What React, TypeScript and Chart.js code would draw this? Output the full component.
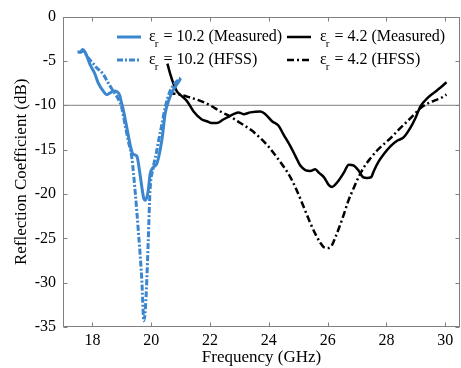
import { useEffect, useRef } from 'react';
import { Chart, registerables } from 'chart.js';

Chart.register(...registerables);

const xTickValues = [18, 20, 22, 24, 26, 28, 30];
const yTickValues = [0, -5, -10, -15, -20, -25, -30, -35];

const blueMeasFreq = [17.49, 17.58, 17.67, 17.75, 17.83, 17.92, 18.09, 18.2, 18.37, 18.49, 18.6, 18.72, 18.85, 18.93, 18.98, 19.05, 19.17, 19.28, 19.36, 19.45, 19.52, 19.62, 19.74, 19.8, 19.9, 19.96, 20.07, 20.19, 20.3, 20.38, 20.47, 20.59, 20.76, 20.9, 21.0];
const blueMeasVal = [-4.0, -4.0, -3.7, -4.0, -4.6, -5.4, -6.5, -7.5, -8.4, -8.8, -8.6, -8.4, -8.5, -8.9, -9.6, -10.5, -12.5, -14.4, -15.4, -15.6, -15.8, -17.8, -20.4, -20.7, -19.6, -17.8, -17.0, -16.6, -15.1, -13.5, -11.0, -9.5, -8.2, -7.5, -7.0];

const blueHfssFreq = [17.55, 17.69, 17.8, 17.92, 18.03, 18.15, 18.26, 18.37, 18.54, 18.71, 18.88, 19.0, 19.11, 19.22, 19.34, 19.45, 19.56, 19.68, 19.75, 19.8, 19.85, 19.9, 19.96, 20.07, 20.19, 20.25, 20.36, 20.47, 20.64, 20.76, 20.9, 21.0];
const blueHfssVal = [-4.1, -3.9, -4.4, -4.9, -5.3, -5.8, -6.1, -6.5, -7.5, -8.4, -9.3, -10.3, -12.2, -14.0, -15.9, -19.6, -24.1, -29.7, -34.3, -33.0, -29.7, -25.2, -19.6, -17.0, -15.1, -14.0, -12.2, -10.3, -8.4, -7.7, -7.2, -6.9];

const blackMeasFreq = [20.55, 20.64, 20.76, 20.87, 20.98, 21.21, 21.44, 21.72, 21.89, 22.05, 22.23, 22.45, 22.62, 22.8, 22.97, 23.14, 23.37, 23.71, 23.88, 24.11, 24.33, 24.5, 24.73, 24.9, 25.07, 25.24, 25.41, 25.58, 25.7, 25.87, 26.04, 26.15, 26.32, 26.55, 26.72, 26.89, 27.06, 27.2, 27.34, 27.48, 27.57, 27.74, 27.91, 28.14, 28.36, 28.59, 28.82, 28.99, 29.16, 29.39, 29.61, 29.84, 30.04];
const blackMeasVal = [-5.3, -6.4, -7.6, -8.4, -8.8, -9.5, -10.7, -11.6, -11.8, -12.0, -12.0, -11.6, -11.3, -11.0, -10.8, -11.0, -10.8, -10.7, -11.0, -11.8, -12.3, -13.3, -14.6, -15.7, -16.8, -17.3, -17.4, -17.2, -17.6, -18.1, -19.0, -19.2, -18.7, -17.6, -16.7, -16.8, -17.4, -18.1, -18.2, -18.1, -17.4, -16.3, -15.5, -14.6, -14.0, -13.6, -12.5, -11.4, -10.1, -9.2, -8.6, -8.0, -7.4];

const blackHfssFreq = [20.59, 20.98, 21.3, 21.67, 22.0, 22.35, 22.7, 23.03, 23.4, 23.71, 24.0, 24.28, 24.5, 24.73, 24.95, 25.19, 25.4, 25.58, 25.75, 25.87, 26.0, 26.1, 26.26, 26.4, 26.55, 26.7, 26.89, 27.05, 27.23, 27.45, 27.68, 27.9, 28.14, 28.4, 28.71, 28.95, 29.16, 29.4, 29.61, 29.84, 30.04];
const blackHfssVal = [-8.6, -8.8, -9.1, -9.5, -10.0, -10.7, -11.3, -12.0, -12.8, -13.7, -14.7, -15.9, -16.9, -18.1, -19.6, -21.5, -23.2, -24.5, -25.5, -26.0, -26.1, -26.0, -24.9, -23.7, -22.3, -20.8, -19.3, -18.1, -17.0, -16.0, -15.1, -14.4, -13.7, -12.8, -11.8, -11.0, -10.3, -9.8, -9.5, -9.2, -8.8];

const refLineFreq = [17, 30.5];
const refLineVal = [-10, -10];

const legendMain = ['10.2 (Measured)', '10.2 (HFSS)', '4.2 (Measured)', '4.2 (HFSS)'];

const BLUE = '#3b86ce';
const BLACK = '#000000';
const AXIS_GRAY = '#808080';
const SERIF = '"Liberation Serif", "Times New Roman", serif';

const zip = (xs: number[], ys: number[]) => xs.map((x, i) => ({ x, y: ys[i] }));

const framePlugin = {
  id: 'frame',
  afterDatasetsDraw(chart: any) {
    const { ctx, chartArea, scales } = chart;
    const { left, right, top, bottom } = chartArea;
    const L = Math.round(left) + 0.5;
    const R = Math.round(right) - 0.5;
    const T = Math.round(top) + 0.5;
    const B = Math.round(bottom) - 0.5;
    ctx.save();
    ctx.strokeStyle = AXIS_GRAY;
    ctx.lineWidth = 1;
    ctx.setLineDash([]);
    ctx.strokeRect(L, T, R - L, B - T);
    const tl = 4;
    ctx.beginPath();
    for (const v of xTickValues) {
      const px = Math.round(scales.x.getPixelForValue(v)) + 0.5;
      ctx.moveTo(px, B);
      ctx.lineTo(px, B - tl);
      ctx.moveTo(px, T);
      ctx.lineTo(px, T + tl);
    }
    for (const v of yTickValues) {
      const py = Math.round(scales.y.getPixelForValue(v)) + 0.5;
      ctx.moveTo(L, py);
      ctx.lineTo(L + tl, py);
      ctx.moveTo(R, py);
      ctx.lineTo(R - tl, py);
    }
    ctx.stroke();
    ctx.restore();
  },
};

const legendPlugin = {
  id: 'customLegend',
  afterDraw(chart: any) {
    const { ctx } = chart;
    const ds = chart.data.datasets;
    const entries = [
      { d: ds[0], col: 0, row: 0 },
      { d: ds[1], col: 0, row: 1 },
      { d: ds[2], col: 1, row: 0 },
      { d: ds[3], col: 1, row: 1 },
    ];
    const colLineX = [117, 287];
    const lineLen = 24;
    const colTextX = [149, 320];
    const rowBase = [41, 64];
    ctx.save();
    entries.forEach((e, i) => {
      const lx = colLineX[e.col];
      const ly = rowBase[e.row] - 4;
      ctx.strokeStyle = e.d.borderColor;
      ctx.lineWidth = e.d.borderWidth;
      ctx.setLineDash(e.d.borderDash || []);
      ctx.beginPath();
      ctx.moveTo(lx, ly);
      ctx.lineTo(lx + lineLen, ly);
      ctx.stroke();
      ctx.setLineDash([]);
      ctx.fillStyle = '#000';
      ctx.textBaseline = 'alphabetic';
      ctx.textAlign = 'left';
      let tx = colTextX[e.col];
      const by = rowBase[e.row];
      ctx.font = `16px ${SERIF}`;
      ctx.fillText('ε', tx, by);
      tx += ctx.measureText('ε').width;
      ctx.font = `11px ${SERIF}`;
      ctx.fillText('r', tx - 1, by + 6);
      tx += ctx.measureText('r').width;
      ctx.font = `16px ${SERIF}`;
      ctx.fillText(' = ' + legendMain[i], tx, by);
    });
    ctx.restore();
  },
};

export default function App() {
  const ref = useRef<HTMLCanvasElement | null>(null);
  useEffect(() => {
    if (!ref.current) return;
    const chart = new Chart(ref.current, {
      type: 'line',
      data: {
        datasets: [
          {
            label: 'εr = 10.2 (Measured)',
            data: zip(blueMeasFreq, blueMeasVal),
            borderColor: BLUE,
            borderWidth: 3,
            pointRadius: 0,
            cubicInterpolationMode: 'monotone',
            order: 1,
          },
          {
            label: 'εr = 10.2 (HFSS)',
            data: zip(blueHfssFreq, blueHfssVal),
            borderColor: BLUE,
            borderWidth: 3,
            borderDash: [6, 2, 2, 2],
            pointRadius: 0,
            cubicInterpolationMode: 'monotone',
            order: 2,
          },
          {
            label: 'εr = 4.2 (Measured)',
            data: zip(blackMeasFreq, blackMeasVal),
            borderColor: BLACK,
            borderWidth: 2.5,
            pointRadius: 0,
            cubicInterpolationMode: 'monotone',
            order: 3,
          },
          {
            label: 'εr = 4.2 (HFSS)',
            data: zip(blackHfssFreq, blackHfssVal),
            borderColor: BLACK,
            borderWidth: 2.5,
            borderDash: [7, 3, 2, 3],
            pointRadius: 0,
            cubicInterpolationMode: 'monotone',
            order: 4,
          },
          {
            label: 'ref',
            data: zip(refLineFreq, refLineVal),
            borderColor: AXIS_GRAY,
            borderWidth: 1,
            pointRadius: 0,
            order: 5,
          },
        ],
      },
      options: {
        responsive: false,
        animation: false,
        layout: { padding: { top: 15, right: 1, left: 0, bottom: 0 } },
        plugins: {
          legend: { display: false },
          tooltip: { enabled: false },
        },
        scales: {
          x: {
            type: 'linear',
            min: 17,
            max: 30.5,
            afterBuildTicks: (s: any) => {
              s.ticks = xTickValues.map((v) => ({ value: v }));
            },
            afterFit: (s: any) => {
              s.height = 41;
            },
            grid: { display: false, drawTicks: false },
            border: { display: false },
            ticks: {
              padding: 4,
              color: '#000',
              font: { family: SERIF, size: 16 },
              callback: (v: any) => String(v),
              maxRotation: 0,
            },
            title: {
              display: true,
              text: 'Frequency (GHz)',
              color: '#000',
              font: { family: SERIF, size: 17 },
              padding: { top: 0, bottom: 0 },
            },
          },
          y: {
            type: 'linear',
            min: -35,
            max: 0,
            afterBuildTicks: (s: any) => {
              s.ticks = yTickValues.map((v) => ({ value: v }));
            },
            afterFit: (s: any) => {
              s.width = 63;
            },
            grid: { display: false, drawTicks: false },
            border: { display: false },
            ticks: {
              padding: 7,
              color: '#000',
              font: { family: SERIF, size: 16 },
              callback: (v: any) => String(v),
            },
            title: {
              display: true,
              text: 'Reflection Coefficient (dB)',
              color: '#000',
              font: { family: SERIF, size: 17 },
              padding: { top: 11, bottom: 0 },
            },
          },
        },
      },
      plugins: [framePlugin, legendPlugin],
    } as any);
    return () => chart.destroy();
  }, []);
  return (
    <div style={{ position: 'absolute', left: 0, top: 0, width: 461, height: 368 }}>
      <canvas ref={ref} width={461} height={368} />
    </div>
  );
}
